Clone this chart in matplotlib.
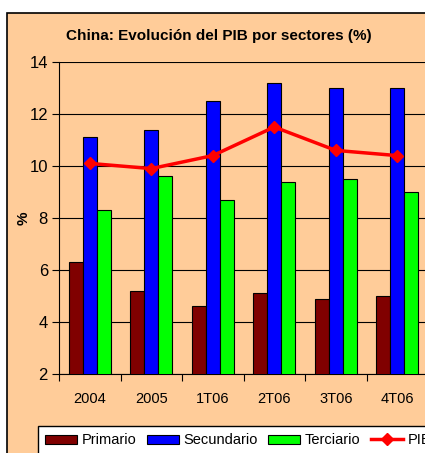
import matplotlib
matplotlib.use("Agg")
import matplotlib.pyplot as plt
from matplotlib.patches import Rectangle
import numpy as np

plt.rcParams['font.family'] = ['Liberation Sans', 'DejaVu Sans']

categories = ["2004", "2005", "1T06", "2T06", "3T06", "4T06"]
primario = [6.3, 5.2, 4.6, 5.1, 4.9, 5.0]
secundario = [11.1, 11.4, 12.5, 13.2, 13.0, 13.0]
terciario = [8.3, 9.6, 8.7, 9.4, 9.5, 9.0]
pib = [10.1, 9.9, 10.4, 11.5, 10.6, 10.4]
yticks = [2, 4, 6, 8, 10, 12, 14]

W, H = 425, 453
fig = plt.figure(figsize=(W / 100, H / 100), dpi=100)
fig.patch.set_facecolor("white")
peach = "#FFCC99"

# chart area
bg = Rectangle((7 / W, -0.1), 1.2, 1 - 13 / H + 0.1, transform=fig.transFigure,
               facecolor=peach, edgecolor="black", linewidth=1.2, zorder=-10)
fig.add_artist(bg)

ax = fig.add_axes([59 / W, 1 - 374 / H, 369 / W, (374 - 62) / H])
ax.set_zorder(1)
ax.set_facecolor(peach)
x = np.arange(len(categories))
bw = 0.225
kw = dict(edgecolor="black", linewidth=0.8, zorder=3)
ax.bar(x - bw, primario, bw, color="#800000", label="Primario", **kw)
ax.bar(x, secundario, bw, color="#0000FF", label="Secundario", **kw)
ax.bar(x + bw, terciario, bw, color="#00FF00", label="Terciario", **kw)
ax.plot(x, pib, color="#FF0000", linewidth=2.5, marker="D", markersize=6, zorder=4, label="PIB")

ax.set_ylim(2, 14)
ax.set_xlim(-0.5, len(categories) - 0.5)
ax.set_yticks(yticks)
ax.set_yticklabels([str(t) for t in yticks], fontsize=12)
ax.yaxis.grid(True, color="black", linewidth=0.8, zorder=0)
ax.set_axisbelow(True)
ax.set_xticks(x)
ax.set_xticklabels(categories, fontsize=10.5)
ax.tick_params(axis="x", length=0, pad=13)
ax.set_xticks(np.arange(len(categories)) - 0.5, minor=True)
ax.tick_params(axis="x", which="minor", length=5, color="black", width=0.8)
ax.tick_params(axis="y", length=5, width=0.8, pad=3)
for s in ["top", "right"]:
    ax.spines[s].set_visible(False)
for s in ["left", "bottom"]:
    ax.spines[s].set_linewidth(0.8)
ax.set_ylabel("%", fontsize=11, fontweight="bold", labelpad=-1)

fig.text(219 / W, 1 - 36 / H, "China: Evolución del PIB por sectores (%)", ha="center", va="center",
         fontsize=11, fontweight="bold")

handles, labels = ax.get_legend_handles_labels()
order = [1, 2, 3, 0]
handles = [handles[i] for i in order]
labels = [labels[i] for i in order]
leg = fig.legend(handles, labels, loc="upper left", bbox_to_anchor=(38 / W, 1 - 426 / H), ncol=4,
                 fontsize=10.5, frameon=True, fancybox=False, edgecolor="black", framealpha=1,
                 facecolor="white", handlelength=2.2, handleheight=0.6, handletextpad=0.3,
                 columnspacing=0.72, borderpad=0.5, borderaxespad=0)
leg.get_frame().set_linewidth(1.0)

fig.savefig("out.png", dpi=100)
